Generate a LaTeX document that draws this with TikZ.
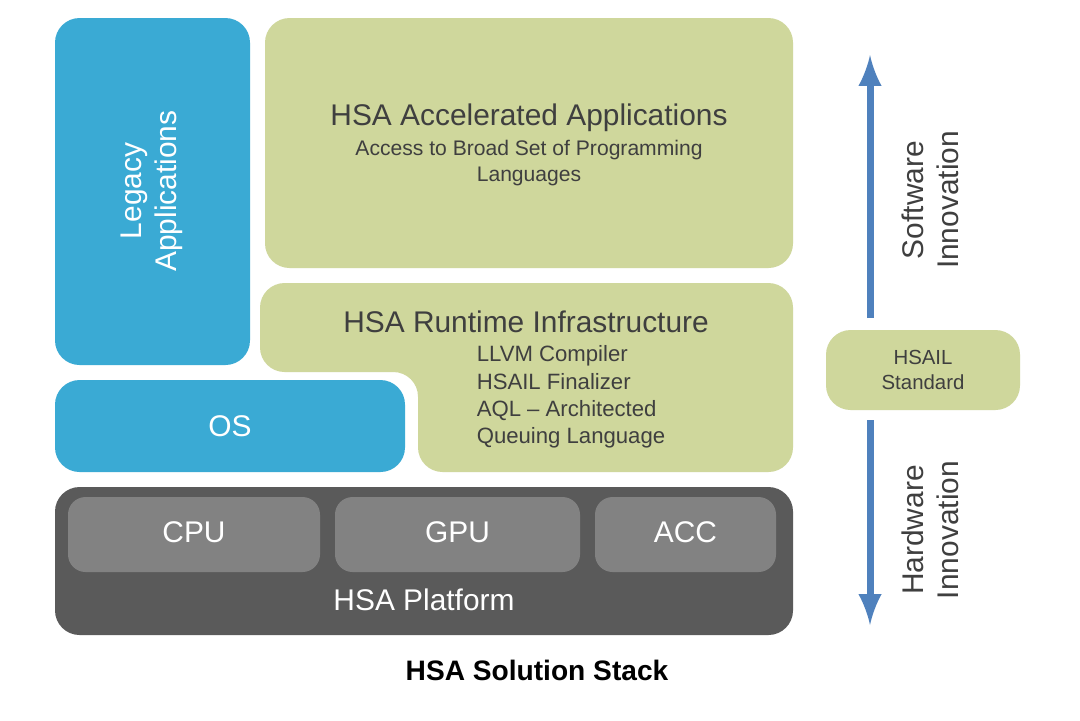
\documentclass[tikz,border=0pt]{standalone}
\usepackage{fontspec}
\setmainfont{Liberation Sans}
\definecolor{hsablue}{HTML}{3AAAD4}
\definecolor{hsagreen}{HTML}{CFD79C}
\definecolor{hsadark}{HTML}{5A5A5A}
\definecolor{hsagray}{HTML}{828282}
\definecolor{hsatext}{HTML}{3F3F3F}
\definecolor{arrowblue}{HTML}{4F81BD}
\tikzset{
  box/.style={rounded corners=7pt},
  bigtxt/.style={font=\fontsize{8.5}{10}\selectfont},
  smalltxt/.style={font=\fontsize{6}{7.4}\selectfont,text=hsatext,align=center},
}
\begin{document}
\begin{tikzpicture}[x=0.01cm,y=-0.01cm]
	\useasboundingbox[fill=white] (0,0) rectangle (1080,720);
	
	%software side
	\fill[hsablue,box] (55,18) rectangle (250,365); %legacy
	\node[bigtxt,text=white,rotate=90,align=center] (legacy) at (152,191) {Legacy\\Applications};
	\fill[hsagreen,box] (265,18) rectangle (793,268); %accelerated
	\node[bigtxt,text=hsatext] (accel) at (529,118) {HSA Accelerated Applications};
	\node[smalltxt] (accelsub) at (529,163) {Access to Broad Set of Programming\\Languages};
	
	%runtime
	\fill[hsagreen,box] (260,283) -- (793,283) -- (793,472) -- (418,472) -- (418,372) -- (260,372) -- cycle;
	\node[bigtxt,text=hsatext] (runtime) at (526,322) {HSA Runtime Infrastructure};
	\node[smalltxt,align=left,font=\fontsize{6.3}{7.8}\selectfont] (runtimesub) at (571,397)
	  {LLVM Compiler\\HSAIL Finalizer\\AQL -- Architected\\Queuing Language};
	\fill[hsablue,box] (55,380) rectangle (405,472); %OS
	\node[bigtxt,text=white] (os) at (230,426) {OS};
	
	%platform
	\fill[hsadark,box] (55,487) rectangle (793,635);
	\foreach \nm/\xa/\xb/\lbl in {cpu/68/320/CPU,gpu/335/580/GPU,acc/595/776/ACC}{
	  \fill[hsagray,rounded corners=5pt] (\xa,497) rectangle (\xb,572);
	  \node[bigtxt,text=white] (\nm) at ({(\xa+\xb)/2},532) {\lbl};
	}
	\node[bigtxt,text=white] (platform) at (424,600) {HSA Platform};
	
	%right side
	\fill[hsagreen,box] (826,330) rectangle (1020,410);
	\node[smalltxt,font=\fontsize{5.8}{7}\selectfont] (hsail) at (923,370) {HSAIL\\Standard};
	\coordinate (swbot) at (870,318);
	\coordinate (swtop) at (870,55);
	\coordinate (hwtop) at (870,420);
	\coordinate (hwbot) at (870,625);
	\draw[arrowblue,line width=2pt,-latex] (swbot) -- (swtop);
	\draw[arrowblue,line width=2pt,-latex] (hwtop) -- (hwbot);
	\node[bigtxt,text=hsatext,rotate=90,align=center] (software) at (930,200) {Software\\Innovation};
	\node[bigtxt,text=hsatext,rotate=90,align=center] (hardware) at (930,530) {Hardware\\Innovation};
	
	%caption
	\node[font=\fontsize{8}{10}\selectfont\bfseries] (caption) at (537,670) {HSA Solution Stack};
\end{tikzpicture}
\end{document}
